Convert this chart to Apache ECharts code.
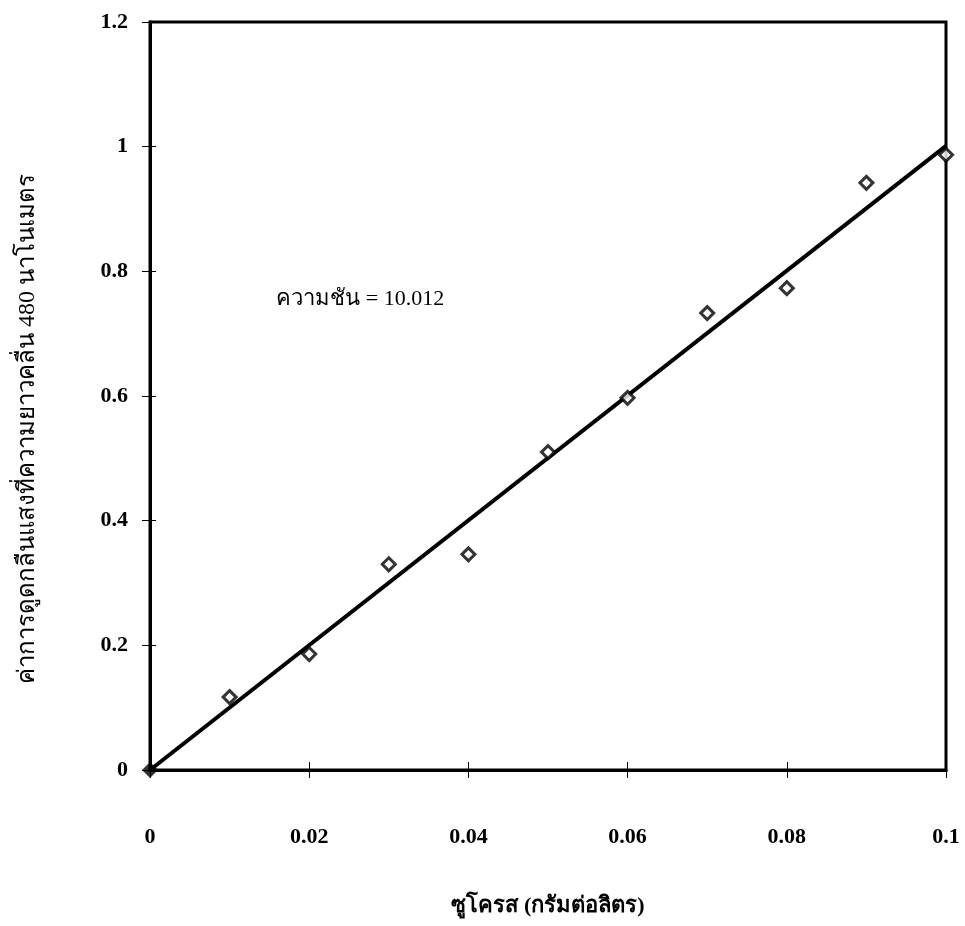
<!DOCTYPE html>
<html><head><meta charset="utf-8">
<script src="https://cdn.jsdelivr.net/npm/echarts@6/dist/echarts.min.js"></script>
<style>html,body{margin:0;padding:0;background:#fff}#c{width:965px;height:926px}</style>
</head><body><div id="c"></div>
<script>
const xTicks = [0, 0.02, 0.04, 0.06, 0.08, 0.1];
const yTicks = [0, 0.2, 0.4, 0.6, 0.8, 1, 1.2];
const sucrose = [0.01, 0.02, 0.03, 0.04, 0.05, 0.06, 0.07, 0.08, 0.09, 0.1];
const absorbance = [0.117, 0.186, 0.330, 0.346, 0.510, 0.597, 0.733, 0.773, 0.942, 0.987];
const origin = [[0, 0]];
const slope = 10.012;
const fitX = [0, 0.1];
const xName = 'ซูโครส (กรัมต่อลิตร)';
const yName = 'ค่าการดูดกลืนแสงที่ความยาวคลื่น 480 นาโนเมตร';
const slopeText = 'ความชัน = 10.012';

const chart = echarts.init(document.getElementById('c'));
const serif = '"Liberation Serif", "Times New Roman", serif';
const axisBase = {
  type: 'value', splitLine: {show: false},
  axisLine: {show: true, onZero: false, lineStyle: {color: '#000', width: 3}}
};
chart.setOption({
  animation: false,
  backgroundColor: '#fff',
  grid: {left: 150, right: 19, top: 22, bottom: 156, show: true, borderColor: '#000', borderWidth: 3, backgroundColor: 'transparent'},
  xAxis: [
    Object.assign({}, axisBase, {
      min: 0, max: 0.1, interval: 0.02,
      name: xName, nameLocation: 'middle', nameGap: 125,
      nameTextStyle: {fontFamily: serif, fontSize: 22, fontWeight: 'bold', color: '#000'},
      axisTick: {show: true, inside: true, length: 8, lineStyle: {color: '#000', width: 1}},
      axisLabel: {margin: 56, fontFamily: serif, fontSize: 22, fontWeight: 'bold', color: '#000',
        formatter: v => String(+v.toFixed(2))}
    }),
    Object.assign({}, axisBase, {
      min: 0, max: 0.1, interval: 0.02, position: 'bottom',
      axisTick: {show: true, inside: false, length: 8, lineStyle: {color: '#000', width: 1}},
      axisLabel: {show: false}
    })
  ],
  yAxis: [
    Object.assign({}, axisBase, {
      min: 0, max: 1.2, interval: 0.2,
      name: yName, nameLocation: 'middle', nameGap: 110, nameRotate: 90,
      nameTextStyle: {fontFamily: serif, fontSize: 24, color: '#000', padding: [0, 66, 0, 0]},
      axisTick: {show: true, inside: false, length: 8, lineStyle: {color: '#000', width: 1}},
      axisLabel: {margin: 22, fontFamily: serif, fontSize: 22, fontWeight: 'bold', color: '#000',
        formatter: v => String(+v.toFixed(1))}
    }),
    Object.assign({}, axisBase, {
      min: 0, max: 1.2, interval: 0.2, position: 'left',
      axisTick: {show: true, inside: true, length: 6, lineStyle: {color: '#000', width: 1}},
      axisLabel: {show: false}
    })
  ],
  series: [
    {
      type: 'line', xAxisIndex: 0, yAxisIndex: 0,
      data: fitX.map(x => [x, slope * x]),
      showSymbol: false, symbol: 'none',
      lineStyle: {color: '#000', width: 4},
      z: 2,
      markPoint: {
        symbol: 'rect', symbolSize: 0,
        label: {show: true, formatter: slopeText, color: '#000', fontFamily: serif, fontSize: 22, align: 'left', position: 'right', offset: [-6, 0]},
        data: [{coord: [0.016, 0.755]}]
      }
    },
    {
      type: 'scatter', xAxisIndex: 0, yAxisIndex: 0,
      data: sucrose.map((x, i) => [x, absorbance[i]]),
      symbol: 'diamond', symbolSize: 13,
      itemStyle: {color: '#fff', borderColor: '#000', borderWidth: 3},
      z: 3
    },
    {
      type: 'scatter', xAxisIndex: 0, yAxisIndex: 0,
      data: origin, symbol: 'diamond', symbolSize: 16,
      itemStyle: {color: '#000'}, z: 4
    }
  ]
});
</script></body></html>
